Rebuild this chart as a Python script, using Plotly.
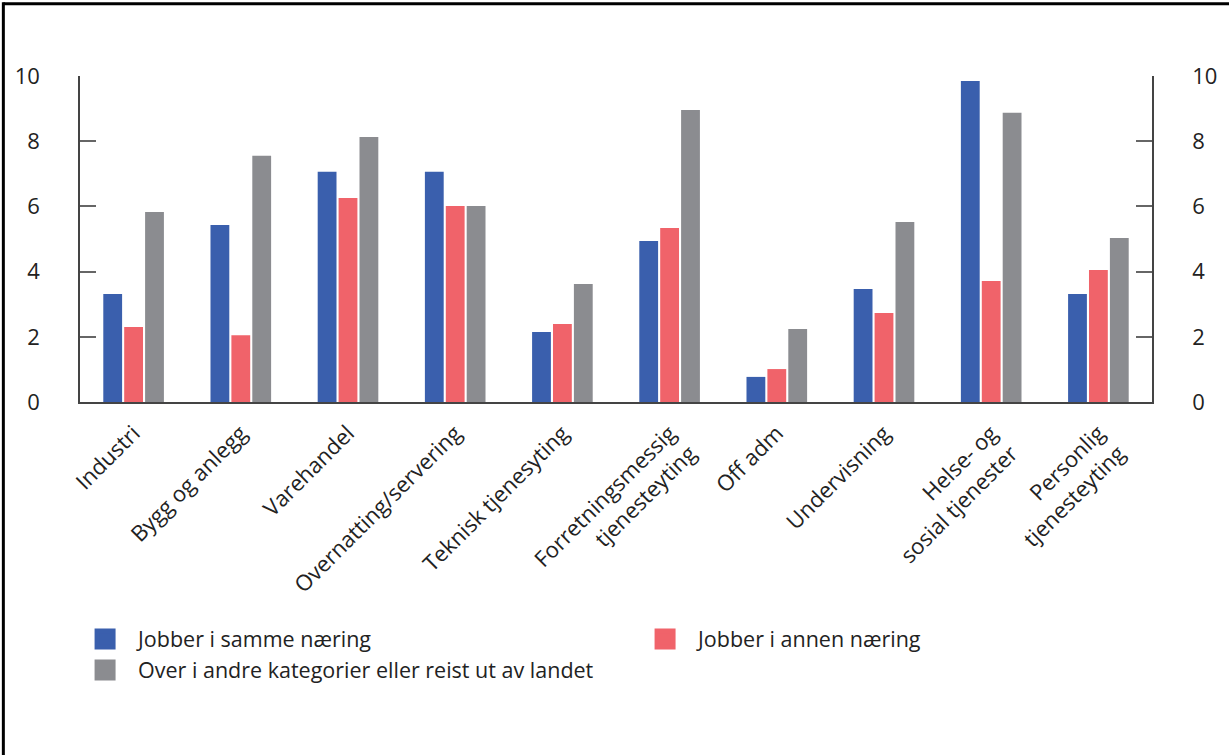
import plotly.graph_objects as go

categories = [
    "Industri", "Bygg og anlegg", "Varehandel", "Overnatting/servering",
    "Teknisk tjenesyting", "Forretningsmessig<br>tjenesteyting", "Off adm",
    "Undervisning", "Helse- og<br>sosial tjenester", "Personlig<br>tjenesteyting",
]
samme_naering = [3.31, 5.43, 7.06, 7.06, 2.15, 4.94, 0.77, 3.47, 9.85, 3.31]
annen_naering = [2.30, 2.05, 6.26, 6.01, 2.39, 5.34, 1.01, 2.73, 3.71, 4.05]
andre_kategorier = [5.83, 7.55, 8.13, 6.01, 3.62, 8.96, 2.24, 5.52, 8.87, 5.03]

series = [
    ("Jobber i samme næring", samme_naering, "#3a5fad"),
    ("Jobber i annen næring", annen_naering, "#f0636a"),
    ("Over i andre kategorier eller reist ut av landet", andre_kategorier, "#8b8c90"),
]

FONT = "Open Sans"
TXT = "#222222"

fig = go.Figure()
for i, (name, vals, col) in enumerate(series):
    fig.add_trace(go.Bar(x=categories, y=vals, name=name, marker_color=col,
                         marker_line_width=0, yaxis="y", legendgroup=f"g{i}",
                         showlegend=False))
    # square legend key for the series
    fig.add_trace(go.Scatter(x=[None], y=[None], mode="markers", name=name,
                             legendgroup=f"g{i}", showlegend=True,
                             marker=dict(symbol="square", size=16, color=col,
                                         line=dict(color=col, width=5))))
# invisible trace to carry the mirrored right-hand axis
fig.add_trace(go.Bar(x=categories, y=[None] * len(categories), yaxis="y2",
                     showlegend=False, hoverinfo="skip"))

axis_common = dict(
    range=[0, 10], tickvals=[0, 2, 4, 6, 8, 10], ticks="inside", ticklen=16,
    tickwidth=1.5, tickcolor="#666666", showline=True, linecolor="#444444",
    linewidth=1.5, showgrid=False, zeroline=False,
    tickfont=dict(family=FONT, size=22, color=TXT), ticklabelstandoff=34,
)

fig.update_layout(
    width=1229, height=755,
    margin=dict(l=80, r=72, t=76, b=353),
    paper_bgcolor="white", plot_bgcolor="white",
    barmode="group", bargap=0.415, bargroupgap=0.1,
    font=dict(family=FONT, size=22, color=TXT),
    xaxis=dict(tickangle=-45, showline=True, linecolor="#444444", linewidth=1.5,
               ticks="", ticklabelstandoff=8,
               tickfont=dict(family=FONT, size=22, color=TXT)),
    yaxis=dict(side="left", **axis_common),
    yaxis2=dict(side="right", overlaying="y", **axis_common),
    legend=dict(orientation="h", x=-0.0074, xanchor="left", y=-0.664, yanchor="top",
                itemwidth=56, entrywidth=489, entrywidthmode="pixels",
                traceorder="normal", tracegroupgap=0,
                font=dict(family=FONT, size=21.5, color=TXT)),
    showlegend=True,
)

# frame lines along the top and left edges of the page
fig.add_shape(type="line", xref="paper", yref="paper",
              x0=-0.0715, y0=1.2215, x1=1.2, y1=1.2215,
              line=dict(color="black", width=3))
fig.add_shape(type="line", xref="paper", yref="paper",
              x0=-0.0715, y0=1.226, x1=-0.0715, y1=-1.2,
              line=dict(color="black", width=3))

fig.write_html("out.html")
